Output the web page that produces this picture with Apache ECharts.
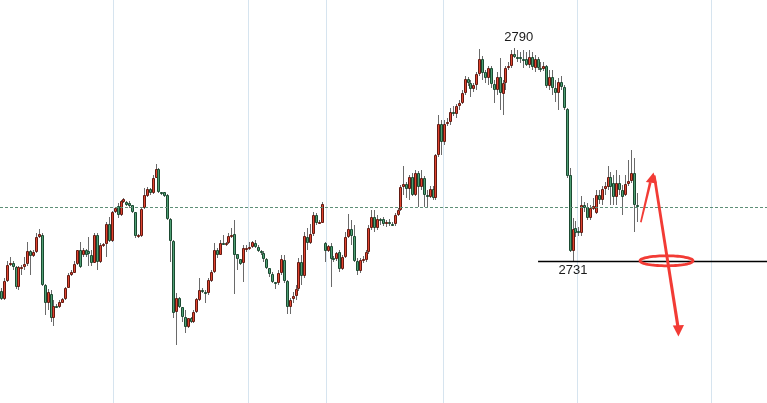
<!DOCTYPE html>
<html><head><meta charset="utf-8">
<script src="https://cdn.jsdelivr.net/npm/echarts/dist/echarts.min.js"></script>
<style>html,body{margin:0;padding:0;background:#fff}#c{width:767px;height:403px}</style>
</head><body><div id="c"></div>
<script>
// [open, close, low, high]
const partA = [
[2722.7,2720.6,2720.2,2723.6],[2720.6,2725.4,2720.2,2726.3],[2725.4,2729.9,2725.1,2731.0],[2729.8,2730.6,2729.6,2732.1],
[2730.6,2729.4,2728.5,2731.0],[2729.4,2723.9,2723.3,2729.6],[2723.9,2729.3,2723.0,2729.5],[2729.1,2729.4,2727.1,2729.9],
[2729.3,2730.2,2728.5,2732.1],[2730.2,2733.8,2729.6,2736.3],[2733.8,2732.5,2727.1,2734.0],[2732.5,2733.6,2732.1,2734.1],
[2733.6,2737.6,2733.2,2738.8],[2737.6,2738.4,2737.5,2739.9],[2738.2,2724.4,2724.2,2738.8],[2724.4,2719.3,2716.0,2724.6],
[2719.3,2722.5,2717.4,2723.3],[2721.9,2715.1,2714.1,2723.0],[2715.1,2718.7,2713.0,2720.2],[2718.7,2718.3,2718.0,2719.1],
[2718.2,2719.6,2718.0,2720.2],[2719.5,2720.4,2719.4,2720.8],[2720.4,2723.6,2720.2,2723.8],[2723.6,2727.1,2723.5,2727.7],
[2727.1,2728.0,2726.8,2728.5],[2727.8,2730.2,2727.7,2731.0],[2730.2,2734.0,2729.9,2734.2],[2734.0,2729.4,2729.1,2736.3],
[2732.7,2734.2,2732.1,2734.6],[2734.0,2732.7,2732.1,2734.3],[2733.8,2732.9,2729.6,2737.6],[2732.7,2730.6,2729.6,2734.0],
[2730.6,2738.2,2730.4,2738.8],[2738.2,2730.8,2728.5,2738.8],[2730.8,2735.4,2730.4,2736.0],[2735.2,2735.7,2734.9,2736.0],
[2735.7,2741.3,2732.1,2741.8],[2741.3,2736.6,2736.3,2743.2],[2736.6,2744.7,2736.3,2744.9],[2744.7,2745.6,2744.3,2746.0],
[2746.2,2743.7,2742.9,2747.1],[2743.7,2747.6,2743.5,2747.8],[2747.4,2748.1,2747.1,2748.5],[2747.4,2746.5,2746.2,2747.6]
];
const partB = [
[2747.0,2746.2,2745.6,2747.6],[2746.5,2744.5,2744.3,2746.6],[2744.5,2737.9,2737.4,2744.6],[2737.7,2738.2,2737.4,2738.5],
[2737.9,2745.3,2737.6,2745.7],[2745.6,2749.3,2745.4,2751.2],[2749.1,2750.9,2748.7,2751.5],[2750.9,2749.8,2749.3,2751.2],
[2749.8,2754.1,2749.6,2754.8],[2754.1,2756.4,2754.0,2757.9],[2756.4,2750.0,2749.8,2756.8],[2750.0,2749.6,2749.3,2750.1],
[2750.0,2749.1,2748.7,2750.2],[2749.3,2742.6,2742.4,2749.6],[2742.6,2736.5,2730.7,2742.9],[2736.5,2716.5,2715.2,2736.8],
[2716.8,2720.8,2707.7,2722.1],[2720.8,2718.3,2718.0,2721.0],[2718.3,2715.6,2714.1,2718.4],[2715.6,2712.8,2711.1,2717.4],
[2712.8,2715.1,2712.4,2715.2],[2715.1,2714.2,2713.8,2715.5],[2714.2,2716.8,2713.8,2717.4],[2717.0,2720.4,2716.6,2720.8],
[2720.2,2723.0,2719.9,2726.3],[2723.0,2722.3,2722.1,2723.6],[2722.5,2722.1,2719.4,2723.0],[2722.1,2725.7,2721.6,2726.3],
[2725.4,2728.0,2725.1,2728.5],[2728.0,2734.2,2727.7,2736.0],[2734.2,2732.7,2731.8,2734.6],[2732.7,2735.9,2732.6,2736.8],
[2735.9,2735.6,2735.4,2738.2],[2735.6,2735.9,2735.2,2736.3],[2735.9,2737.9,2735.7,2738.8],[2737.7,2738.2,2737.4,2740.1],
[2738.4,2732.7,2721.9,2742.4],[2732.9,2731.5,2728.5,2733.0],[2731.5,2730.1,2729.9,2731.6],[2730.4,2734.5,2725.1,2735.4],
[2734.3,2734.7,2733.5,2735.4],[2734.5,2735.0,2734.0,2736.3],[2734.9,2736.2,2734.6,2736.5],[2735.9,2735.0,2734.6,2736.8]
];
const partC = [
[2735.0,2733.8,2733.5,2735.4],[2733.8,2733.2,2732.7,2734.0],[2733.2,2731.6,2730.7,2733.8],[2731.6,2729.0,2728.8,2731.8],
[2729.0,2727.5,2726.6,2729.1],[2727.5,2725.1,2724.9,2727.9],[2725.1,2725.0,2723.3,2725.2],[2725.0,2727.6,2724.4,2728.5],
[2727.6,2731.6,2727.1,2732.7],[2731.3,2725.5,2724.9,2732.7],[2725.5,2718.3,2716.3,2725.7],[2718.3,2720.2,2716.3,2720.8],
[2720.4,2721.3,2719.4,2722.4],[2721.3,2723.2,2720.2,2724.4],[2723.2,2730.8,2722.7,2731.8],[2730.8,2726.8,2724.4,2732.7],
[2726.8,2737.9,2726.3,2739.0],[2737.7,2736.1,2734.0,2740.1],[2736.1,2738.5,2735.7,2741.3],[2738.5,2743.7,2737.9,2744.6],
[2743.7,2741.6,2741.0,2744.3],[2741.6,2741.9,2741.3,2742.4],[2741.6,2746.7,2741.5,2747.3],[2735.9,2733.8,2730.7,2736.3],
[2733.8,2735.2,2733.5,2735.4],[2735.2,2731.5,2723.8,2736.0],[2731.8,2731.5,2730.7,2732.4],[2731.5,2733.2,2731.0,2733.5],
[2733.4,2728.8,2728.0,2734.0],[2728.8,2732.2,2728.5,2732.7],[2732.2,2737.6,2731.8,2739.0],[2737.6,2739.8,2737.4,2744.0],
[2739.8,2738.0,2735.4,2742.4],[2738.0,2731.1,2730.7,2741.0],[2731.1,2728.3,2727.1,2731.8],[2728.3,2731.3,2727.7,2731.8],
[2731.2,2731.6,2730.4,2732.4],[2731.3,2733.4,2730.7,2734.0],[2733.4,2740.1,2732.9,2741.0],[2740.1,2743.3,2739.6,2745.1],
[2743.3,2740.1,2739.0,2745.1],[2740.1,2742.6,2739.6,2743.7],[2742.6,2742.1,2741.0,2742.9],[2742.6,2741.3,2740.7,2743.2],
[2741.3,2741.8,2740.5,2742.4],[2741.9,2741.3,2740.7,2742.6],[2741.3,2741.2,2740.7,2741.8],[2741.2,2743.7,2740.7,2744.3],
[2743.7,2745.1,2743.4,2745.7],[2745.1,2751.4,2744.9,2752.1],[2751.6,2752.3,2749.3,2757.3],[2752.3,2751.1,2748.5,2752.9],
[2751.1,2754.4,2747.9,2754.8],[2754.4,2749.3,2749.0,2755.4],[2749.3,2755.3,2749.0,2756.2],[2755.3,2751.6,2746.0,2755.9],
[2751.6,2753.9,2750.7,2756.2],[2753.9,2749.3,2746.0,2754.5],[2749.3,2748.8,2746.0,2750.7],[2748.8,2751.1,2748.5,2751.8],
[2751.1,2748.4,2747.9,2751.8],[2748.4,2760.4,2747.9,2760.6],[2760.4,2769.1,2759.8,2771.4],[2769.1,2763.9,2760.4,2770.1],
[2763.9,2769.1,2763.1,2770.1]
];
const partD = [
[2768.9,2769.6,2768.4,2770.7],[2769.6,2772.4,2768.7,2773.4],[2772.4,2771.7,2771.2,2773.9],[2771.7,2773.9,2770.6,2774.5],
[2773.9,2774.9,2772.8,2775.6],[2774.9,2777.6,2774.5,2778.4],[2777.6,2781.3,2777.0,2782.2],[2781.3,2780.2,2779.5,2782.0],
[2780.2,2778.6,2776.4,2781.1],[2778.6,2779.8,2777.8,2780.3],[2779.8,2782.8,2778.4,2783.4],[2782.8,2786.9,2782.2,2789.7],
[2786.9,2783.0,2781.1,2787.8],[2783.4,2781.6,2780.3,2783.9],[2781.6,2784.4,2779.8,2785.0],[2784.4,2780.0,2778.9,2785.0],
[2780.0,2778.4,2774.8,2781.1],[2778.4,2782.1,2777.0,2783.4],[2782.1,2777.5,2772.8,2787.2],[2777.3,2780.2,2771.4,2781.1],
[2780.2,2784.4,2778.4,2785.0],[2784.4,2785.0,2783.9,2786.1],[2785.0,2788.3,2784.5,2789.5],[2788.3,2787.4,2787.2,2790.0],
[2787.6,2787.2,2786.1,2789.5],[2787.4,2786.9,2785.8,2788.9],[2787.1,2787.0,2784.5,2789.5],[2787.1,2785.3,2785.0,2788.9],
[2785.3,2787.6,2784.5,2789.5],[2787.4,2784.7,2783.9,2788.9],[2784.4,2786.9,2783.4,2788.1],[2786.9,2784.4,2783.9,2787.5],
[2784.4,2784.1,2783.4,2786.1],[2784.1,2785.0,2783.6,2786.1],[2785.0,2779.5,2778.9,2785.3],[2779.5,2781.9,2778.4,2783.9],
[2781.9,2778.8,2777.0,2783.9],[2778.8,2777.6,2775.0,2781.1],[2777.6,2780.7,2772.8,2781.7],[2780.7,2779.3,2778.4,2782.2],
[2779.1,2773.3,2772.8,2779.8],[2773.0,2754.5,2754.0,2773.4],[2754.8,2733.9,2733.5,2756.8],[2733.9,2739.8,2731.0,2742.9],
[2740.1,2738.7,2737.6,2742.1],[2739.4,2738.9,2738.0,2740.4],[2738.7,2746.4,2737.9,2749.0],[2746.4,2745.6,2744.6,2747.4],
[2746.0,2742.8,2742.4,2747.1],[2742.8,2745.6,2742.4,2746.5],[2745.3,2746.2,2745.1,2748.5],[2744.2,2749.2,2744.0,2750.7],
[2749.2,2747.9,2746.8,2750.7],[2747.9,2751.1,2746.5,2751.8],[2751.1,2751.8,2749.3,2752.9],[2751.4,2754.2,2750.7,2757.3],
[2754.4,2751.4,2746.5,2755.6],[2752.5,2748.8,2746.5,2754.8],[2748.8,2752.7,2746.5,2756.2],[2752.7,2750.7,2749.3,2754.8],
[2750.7,2748.8,2743.7,2752.1],[2749.2,2752.3,2749.0,2754.8],[2752.3,2753.3,2751.8,2759.0],[2753.3,2755.5,2752.6,2761.8],
[2755.3,2746.4,2739.0,2759.6],[2746.4,2746.0,2741.8,2749.8]
];
const slotCount = 263;                 // category slots across the plot width
const categories = Array.from({length: slotCount}, (_, i) => String(i));
const sessionBreaks = [39, 85, 112, 152, 198, 244];
const lastPrice = 2746.0;
const highMark = {idx: 176, value: 2790};
const lowMark = {idx: 196, value: 2731};
const supportStart = 184;
const yMin = 2691.7, yMax = 2803.3;

const candles = partA.concat(partB, partC, partD).map((d, i) => [i, d[0], d[1], d[2], d[3]]);

function renderCandle(params, api) {
  const k = api.value(0);
  const o = api.value(1), c = api.value(2), l = api.value(3), h = api.value(4);
  const pO = api.coord([k, o]), pC = api.coord([k, c]);
  const pL = api.coord([k, l]), pH = api.coord([k, h]);
  const xc = Math.round(pO[0] - 0.5);
  const up = c > o;
  let y1 = Math.round(Math.min(pO[1], pC[1]));
  let y2 = Math.round(Math.max(pO[1], pC[1]));
  if (y2 - y1 < 2) y2 = y1 + 2;
  return {
    type: 'group',
    children: [
      {type: 'line', shape: {x1: xc + 0.5, y1: Math.round(pH[1]), x2: xc + 0.5, y2: Math.round(pL[1])},
       style: {stroke: '#6a6a6a', lineWidth: 1}},
      {type: 'rect', shape: {x: xc - 0.5, y: y1 + 0.5, width: 2, height: y2 - y1 - 1},
       style: {fill: up ? '#e0442f' : '#4f9f74', stroke: up ? '#631a12' : '#1b4a31', lineWidth: 1}}
    ]
  };
}

const red = '#f23b35';
const ellipsePts = [];
for (let i = 0; i < 72; i++) {
  const t = i / 72 * Math.PI * 2;
  ellipsePts.push([666.5 + 26.5 * Math.cos(t), 260.8 + 5 * Math.sin(t)]);
}

const chart = echarts.init(document.getElementById('c'));
const baseOption = {
  animation: false,
  backgroundColor: '#ffffff',
  grid: {left: 0, right: 0, top: 0, bottom: 0},
  xAxis: {
    type: 'category', data: categories, boundaryGap: true,
    axisLine: {show: false}, axisTick: {show: false}, axisLabel: {show: false},
    splitLine: {show: true, interval: (i) => sessionBreaks.indexOf(i) >= 0,
      lineStyle: {color: '#d6e4ef', width: 1}}
  },
  yAxis: {type: 'value', min: yMin, max: yMax, show: false},
  series: [{
    type: 'custom',
    renderItem: renderCandle,
    data: candles,
    encode: {x: 0, y: [1, 2, 3, 4]},
    markPoint: {
      symbol: 'circle', symbolSize: 1, itemStyle: {color: 'rgba(0,0,0,0)'},
      label: {show: true, position: 'inside', color: '#1a1a1a', fontSize: 13,
        fontFamily: 'Liberation Sans', formatter: '{c}'},
      data: [
        {coord: [highMark.idx, highMark.value], value: highMark.value, label: {offset: [4, -11]}},
        {coord: [lowMark.idx, lowMark.value], value: lowMark.value, label: {offset: [0, 9.5]}}
      ]
    }
  }],
  graphic: [
    {type: 'polygon', z: 100, shape: {points: [[640, 222], [641.6, 222.4], [651.6, 182.5], [649, 182]]}, style: {fill: red}},
    {type: 'polygon', z: 100, shape: {points: [[653.5, 172.5], [645.8, 182], [657, 183.5]]}, style: {fill: red}},
    {type: 'polygon', z: 100, shape: {points: [[652.8, 175], [655.6, 175.5], [679.6, 327], [676.4, 327]]}, style: {fill: red}},
    {type: 'polygon', z: 100, shape: {points: [[678.4, 336.5], [672.8, 325.5], [684, 325]]}, style: {fill: red}},
    {type: 'polygon', z: 100, shape: {points: ellipsePts}, style: {fill: 'none', stroke: red, lineWidth: 2.8}}
  ]
};
chart.setOption(baseOption);
// support line from the low-area start to the right edge of the plot
const pStart = chart.convertToPixel({seriesIndex: 0}, [supportStart, lowMark.value]);
chart.setOption({
  series: [{
    markLine: {
      silent: true, symbol: ['none', 'none'], label: {show: false},
      data: [
        {yAxis: lastPrice, lineStyle: {color: '#5d8f76', type: [3, 2], width: 1}},
        [{x: pStart[0], y: pStart[1], lineStyle: {color: '#000000', width: 1.3, type: 'solid'}},
         {x: 767, y: pStart[1]}]
      ]
    }
  }]
});
</script>
</body></html>
